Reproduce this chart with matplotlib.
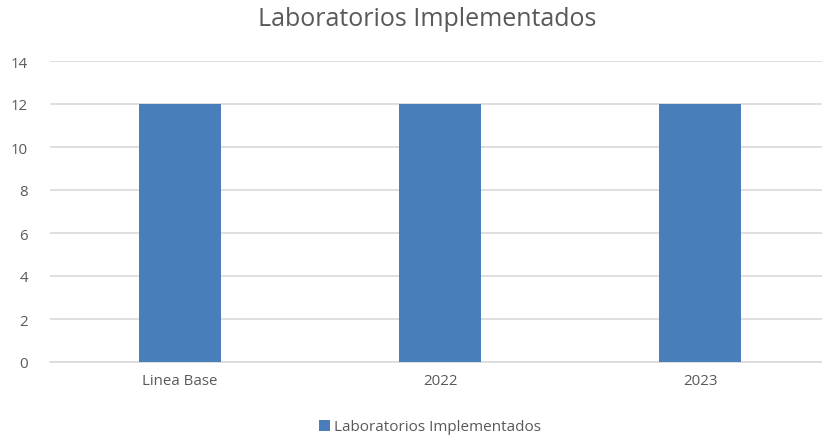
import matplotlib.pyplot as plt

# --- Data ---
categories = ["Linea Base", "2022", "2023"]
values = [12, 12, 12]
series_name = "Laboratorios Implementados"

plt.rcParams["font.family"] = ["Open Sans", "DejaVu Sans"]

fig = plt.figure(figsize=(8.22, 4.39), dpi=100)
W, H = 822, 439
# plot area in pixels: x 50..830, y 62..363
ax = fig.add_axes([50 / W, (H - 363) / H, 780 / W, (363 - 62) / H])

x = range(len(categories))
ax.bar(x, values, width=0.315, color="#4A7EBB", label=series_name, zorder=3)

ax.set_xlim(-0.5, len(categories) - 0.5)
ax.set_ylim(0, 14)
ax.set_yticks(range(0, 15, 2))
ax.set_xticks(list(x))
ax.set_xticklabels(categories)

ax.grid(axis="y", color="#D9D9D9", lw=1.2, zorder=0)
for s in ["top", "right", "left"]:
    ax.spines[s].set_visible(False)
ax.spines["bottom"].set_color("#D9D9D9")
ax.spines["bottom"].set_linewidth(1.2)
ax.tick_params(axis="both", length=0, labelsize=10.8, colors="#595959")
ax.tick_params(axis="y", pad=16)
ax.tick_params(axis="x", pad=8)

fig.text(427 / W, 1 - 20 / H, "Laboratorios Implementados", ha="center", va="center",
         fontsize=18, color="#595959")

fig.legend(loc="center", bbox_to_anchor=(430 / W, 1 - 428 / H), frameon=False,
           fontsize=11, labelcolor="#595959", handlelength=0.7, handleheight=0.7,
           handletextpad=0.3)

fig.savefig("out.png", dpi=100)
